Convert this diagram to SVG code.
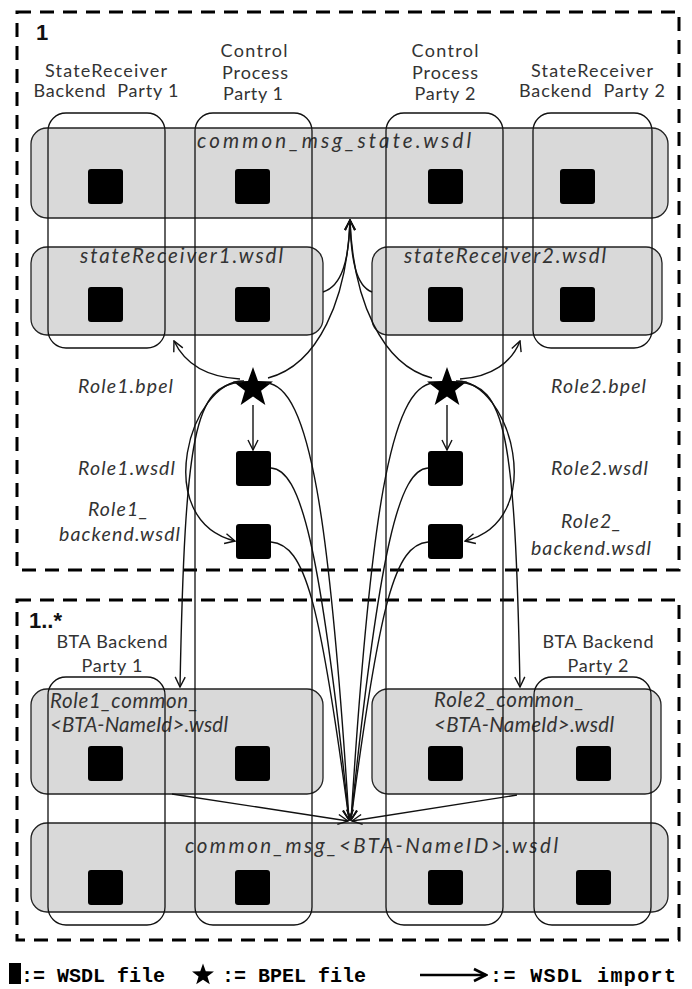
<svg xmlns="http://www.w3.org/2000/svg" width="692" height="989" viewBox="0 0 692 989">
<style>
.frame{fill:none;stroke:#000;stroke-width:3;stroke-dasharray:14 9}
.band{fill:#d9d9d9;stroke:#222;stroke-width:1.3}
.col{fill:none;stroke:#111;stroke-width:1.3}
.conn{fill:none;stroke:#111;stroke-width:1.4;marker-end:url(#arr)}
.lbl{font-family:Lato,"Open Sans","Liberation Sans",sans-serif;fill:#333;font-size:18px}
.it{font-style:italic;font-size:20.5px}
.rl{font-style:italic;font-size:19.5px}
.num{font-family:"Liberation Sans",Arial,sans-serif;font-weight:bold;font-size:22px;fill:#111}
.leg{font-family:"Liberation Mono","Courier New",monospace;font-weight:bold;font-size:20px;fill:#000}
</style>
<defs>
<marker id="arr" viewBox="0 0 12 12" refX="11" refY="6" markerWidth="12" markerHeight="12" orient="auto" markerUnits="userSpaceOnUse">
<path d="M1,1 L11,6 L1,11" fill="none" stroke="#111" stroke-width="1.4"/>
</marker>
<marker id="arrL" viewBox="0 0 16 16" refX="14" refY="8" markerWidth="16" markerHeight="16" orient="auto" markerUnits="userSpaceOnUse">
<path d="M2,2 L14,8 L2,14" fill="none" stroke="#000" stroke-width="2.6"/>
</marker>
<path id="star" d="M0,-21 L5,-6.88 L19.97,-6.49 L8.08,2.63 L12.34,16.99 L0,8.5 L-12.34,16.99 L-8.08,2.63 L-19.97,-6.49 L-5,-6.88 Z" fill="#000"/>
<rect id="wsdl" width="35" height="35" rx="3" fill="#000"/>
</defs>
<rect width="692" height="989" fill="#fff"/>

<g id="frames">
<rect class="frame" x="17" y="12" width="662" height="558"/>
<rect class="frame" x="17" y="600" width="662" height="340"/>
<text class="num" x="36" y="40">1</text>
<text class="num" x="29" y="628">1..*</text>
</g>

<g id="bands">
<g id="common_msg_state"><rect class="band" x="31" y="128" width="637" height="90" rx="16"/>
<text class="lbl it" x="197" y="148" textLength="274" lengthAdjust="spacing">common_msg_state.wsdl</text></g>
<g id="stateReceiver1"><rect class="band" x="31" y="247" width="292" height="88" rx="16"/>
<text class="lbl it" x="80" y="263" textLength="203" lengthAdjust="spacing">stateReceiver1.wsdl</text></g>
<g id="stateReceiver2"><rect class="band" x="372" y="247" width="290" height="88" rx="16"/>
<text class="lbl it" x="404" y="263" textLength="202" lengthAdjust="spacing">stateReceiver2.wsdl</text></g>
<g id="role1_common"><rect class="band" x="31" y="689" width="292" height="105" rx="16"/>
<text class="lbl it" x="50" y="708" textLength="148" lengthAdjust="spacing">Role1_common_</text>
<text class="lbl it" x="50" y="732" textLength="178" lengthAdjust="spacing">&lt;BTA-NameId&gt;.wsdl</text></g>
<g id="role2_common"><rect class="band" x="372" y="689" width="289" height="105" rx="16"/>
<text class="lbl it" x="434" y="707" textLength="150" lengthAdjust="spacing">Role2_common_</text>
<text class="lbl it" x="434" y="732" textLength="180" lengthAdjust="spacing">&lt;BTA-NameId&gt;.wsdl</text></g>
<g id="common_msg_bta"><rect class="band" x="31" y="823" width="637" height="89" rx="16"/>
<text class="lbl it" x="185" y="853" textLength="373" lengthAdjust="spacing">common_msg_&lt;BTA-NameID&gt;.wsdl</text></g>
</g>

<g id="columns">
<g id="sr_backend_party1"><rect class="col" x="48" y="113" width="117" height="235" rx="18"/>
<text class="lbl" x="106" y="77" text-anchor="middle" textLength="122" lengthAdjust="spacing">StateReceiver</text>
<text class="lbl" x="106" y="97" text-anchor="middle" textLength="145" lengthAdjust="spacing" xml:space="preserve">Backend  Party 1</text></g>
<g id="control_party1"><rect class="col" x="195" y="113" width="117" height="812" rx="18"/>
<text class="lbl" x="254" y="57" text-anchor="middle" textLength="67" lengthAdjust="spacing">Control</text>
<text class="lbl" x="255" y="79" text-anchor="middle" textLength="66" lengthAdjust="spacing">Process</text>
<text class="lbl" x="253" y="100" text-anchor="middle" textLength="60" lengthAdjust="spacing">Party 1</text></g>
<g id="control_party2"><rect class="col" x="386" y="113" width="117" height="812" rx="18"/>
<text class="lbl" x="445" y="57" text-anchor="middle" textLength="67" lengthAdjust="spacing">Control</text>
<text class="lbl" x="445" y="79" text-anchor="middle" textLength="66" lengthAdjust="spacing">Process</text>
<text class="lbl" x="445" y="100" text-anchor="middle" textLength="61" lengthAdjust="spacing">Party 2</text></g>
<g id="sr_backend_party2"><rect class="col" x="533" y="113" width="119" height="235" rx="18"/>
<text class="lbl" x="592" y="77" text-anchor="middle" textLength="122" lengthAdjust="spacing">StateReceiver</text>
<text class="lbl" x="592" y="97" text-anchor="middle" textLength="146" lengthAdjust="spacing" xml:space="preserve">Backend  Party 2</text></g>
<g id="bta_party1"><rect class="col" x="48" y="677" width="117" height="248" rx="18"/>
<text class="lbl" x="112" y="648" text-anchor="middle" textLength="111" lengthAdjust="spacing">BTA Backend</text>
<text class="lbl" x="112" y="672" text-anchor="middle" textLength="61" lengthAdjust="spacing">Party 1</text></g>
<g id="bta_party2"><rect class="col" x="534" y="677" width="117" height="248" rx="18"/>
<text class="lbl" x="598" y="648" text-anchor="middle" textLength="111" lengthAdjust="spacing">BTA Backend</text>
<text class="lbl" x="598" y="672" text-anchor="middle" textLength="61" lengthAdjust="spacing">Party 2</text></g>
</g>

<g id="wsdl_files">
<use href="#wsdl" x="88" y="169"/><use href="#wsdl" x="235" y="169"/><use href="#wsdl" x="428" y="169"/><use href="#wsdl" x="560" y="169"/>
<use href="#wsdl" x="88" y="287"/><use href="#wsdl" x="235" y="287"/><use href="#wsdl" x="428" y="287"/><use href="#wsdl" x="560" y="287"/>
<g id="role1_wsdl"><use href="#wsdl" x="236" y="451"/><text class="lbl rl" x="78" y="475" textLength="97" lengthAdjust="spacing">Role1.wsdl</text></g>
<g id="role2_wsdl"><use href="#wsdl" x="428" y="451"/><text class="lbl rl" x="551" y="475" textLength="97" lengthAdjust="spacing">Role2.wsdl</text></g>
<g id="role1_backend"><use href="#wsdl" x="236" y="524"/><text class="lbl rl" x="88" y="516" textLength="60" lengthAdjust="spacing">Role1_</text><text class="lbl rl" x="59" y="541" textLength="121" lengthAdjust="spacing">backend.wsdl</text></g>
<g id="role2_backend"><use href="#wsdl" x="428" y="524"/><text class="lbl rl" x="561" y="528" textLength="60" lengthAdjust="spacing">Role2_</text><text class="lbl rl" x="531" y="555" textLength="120" lengthAdjust="spacing">backend.wsdl</text></g>
<use href="#wsdl" x="88" y="746"/><use href="#wsdl" x="235" y="746"/><use href="#wsdl" x="428" y="746"/><use href="#wsdl" x="576" y="746"/>
<use href="#wsdl" x="88" y="870"/><use href="#wsdl" x="235" y="870"/><use href="#wsdl" x="428" y="870"/><use href="#wsdl" x="576" y="870"/>
</g>

<g id="role1_bpel"><use href="#star" x="253" y="388"/><text class="lbl rl" x="78" y="393" textLength="95" lengthAdjust="spacing">Role1.bpel</text></g>
<g id="role2_bpel"><use href="#star" x="447" y="388"/><text class="lbl rl" x="551" y="393" textLength="95" lengthAdjust="spacing">Role2.bpel</text></g>

<g id="connectors">
<path class="conn" d="M323,292 C342,286 349,260 350,220"/>
<path class="conn" d="M268,378 C318,365 347,300 350,220"/>
<path class="conn" d="M432,378 C382,365 353,300 350,220"/>
<path class="conn" d="M372,292 C356,286 351,260 350,220"/>
<path class="conn" d="M240,379 C205,377 184,362 174,341"/>
<path class="conn" d="M460,379 C492,377 512,362 520,341"/>
<path class="conn" d="M253,405 L253,450"/>
<path class="conn" d="M447,405 L447,450"/>
<path class="conn" d="M244,381 C190,380 150,520 235,541"/>
<path class="conn" d="M456,381 C510,380 550,520 465,541"/>
<path class="conn" d="M242,382 C195,385 185,430 180,687"/>
<path class="conn" d="M458,382 C505,385 515,430 520,687"/>
<path class="conn" d="M266,383 C310,385 330,520 349,820"/>
<path class="conn" d="M434,383 C390,385 370,520 351,820"/>
<path class="conn" d="M271,468 C300,470 320,540 349,820"/>
<path class="conn" d="M428,468 C400,470 380,540 351,820"/>
<path class="conn" d="M271,542 C305,545 320,600 349,820"/>
<path class="conn" d="M428,542 C395,545 380,600 351,820"/>
<path class="conn" d="M172,794 L348,821"/>
<path class="conn" d="M517,795 L352,821"/>
</g>

<g id="legend">
<rect x="9" y="963" width="12" height="21" fill="#000"/>
<text class="leg" x="21" y="982">:= WSDL file</text>
<use href="#star" transform="translate(203,975) scale(0.55)"/>
<text class="leg" x="222" y="982">:= BPEL file</text>
<line x1="420" y1="975" x2="486" y2="975" stroke="#000" stroke-width="2.6" marker-end="url(#arrL)"/>
<text class="leg" x="490" y="982" textLength="186" lengthAdjust="spacing">:= WSDL import</text>
</g>
</svg>
